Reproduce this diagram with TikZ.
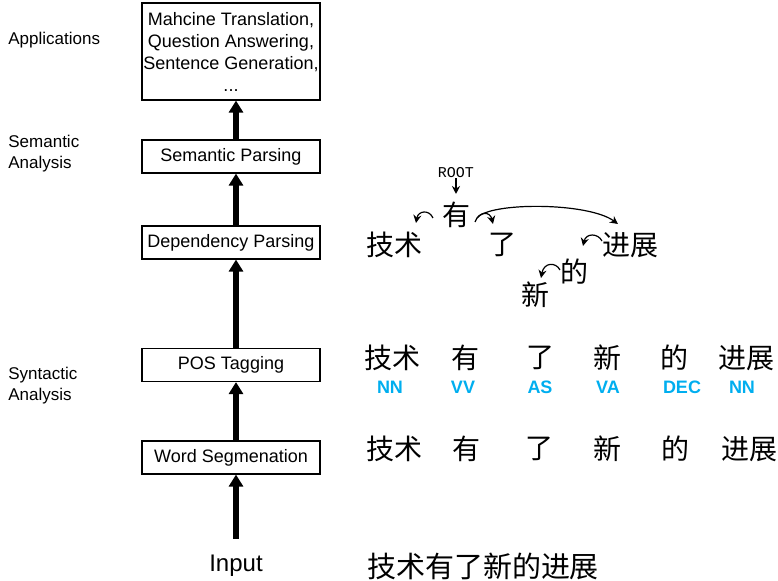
\documentclass[tikz,border=0pt]{standalone}
\usepackage{fontspec}
\setmainfont{Liberation Sans}
\newfontfamily\cjk{Noto Sans CJK SC}
\newfontfamily\courier{Liberation Mono}
\usetikzlibrary{arrows.meta,calc}
\definecolor{tagblue}{RGB}{0,174,239}

\begin{document}
\begin{tikzpicture}[x=0.5pt,y=-0.5pt,
  stage/.style={draw,line width=0.6pt,minimum width=89pt,minimum height=16.5pt,inner sep=0pt,font=\fontsize{9}{11}\selectfont},
  level/.style={anchor=west,align=left,inner sep=0pt,font=\fontsize{8.5}{10.5}\selectfont},
  flow/.style={line width=3pt,-{Triangle[width=7pt,length=6pt]}},
  word/.style={inner sep=0pt,font=\fontsize{14}{14}\cjk},
  tag/.style={inner sep=0pt,text=tagblue,font=\fontsize{9}{9}\selectfont\bfseries},
  dep/.style={line width=0.6pt,-{Stealth[width=4pt,length=4pt]}}]
\useasboundingbox (0,0) rectangle (778,581);

% pipeline
\node[stage,align=center,minimum height=48.5pt] (app) at (231,51.5) {Mahcine Translation,\\ Question Answering,\\Sentence Generation,\\...};
\node[stage] (sem) at (231,156.5) {Semantic Parsing};
\node[stage] (dpar) at (231,242.5) {Dependency Parsing};
\node[stage] (pos) at (231,365) {POS Tagging};
\node[stage] (seg) at (231,457.5) {Word Segmenation};
\node[inner sep=0pt,inner ysep=8pt,font=\fontsize{12}{12}\selectfont] (input) at (236,566) {Input};

\draw[flow] ([xshift=2.5pt]sem.north) -- ([xshift=2.5pt]app.south);
\draw[flow] ([xshift=2.5pt]dpar.north) -- ([xshift=2.5pt]sem.south);
\draw[flow] ([xshift=2.5pt]pos.north) -- ([xshift=2.5pt]dpar.south);
\draw[flow] ([xshift=2.5pt]seg.north) -- ([xshift=2.5pt]pos.south);
\draw[flow] (input.north) -- ([xshift=2.5pt]seg.south);

% levels
\node[level] (lapp) at (8,40) {Applications};
\node[level] (lsem) at (8,153.5) {Semantic\\Analysis};
\node[level] (lsyn) at (8,386) {Syntactic\\Analysis};

% sentence
\node[word,font=\fontsize{14.5}{14.5}\cjk] (sent) at (483,566) {技术有了新的进展};

% segmentation
\node[word] (s1) at (394,449) {技术};
\node[word] (s2) at (466,449) {有};
\node[word] (s3) at (539,449) {了};
\node[word] (s4) at (607,449) {新};
\node[word] (s5) at (675,449) {的};
\node[word] (s6) at (749,449) {进展};

% tagging
\node[word] (p1) at (392,358) {技术};
\node[word] (p2) at (465,358) {有};
\node[word] (p3) at (540,358) {了};
\node[word] (p4) at (607,358) {新};
\node[word] (p5) at (674,358) {的};
\node[word] (p6) at (746,358) {进展};
\node[tag] (t1) at (390,387) {NN};
\node[tag] (t2) at (463,387) {VV};
\node[tag] (t3) at (540,387) {AS};
\node[tag] (t4) at (608,387) {VA};
\node[tag] (t5) at (682,387) {DEC};
\node[tag] (t6) at (742,387) {NN};

% dependency tree
\node[inner sep=0pt,font=\fontsize{7.5}{7.5}\courier] (root) at (456,173) {ROOT};
\node[word] (dHas) at (456,215) {有};
\node[word] (dTech) at (394,245) {技术};
\node[word] (dLe) at (502,245) {了};
\node[word] (dProg) at (630,245) {进展};
\node[word] (dOf) at (574,272) {的};
\node[word] (dNew) at (535,295) {新};

\draw[dep] (root.south) -- ($(dHas)+(0,-21)$);
\draw[dep] ($(dHas)+(-23,3)$) .. controls +(-4,-9) and +(2,-12) .. ($(dTech)+(22,-22)$);
\draw[dep] ($(dHas)+(19,7)$) .. controls +(4,-11) and +(-3,-13) .. ($(dLe)+(-9,-21)$);
\draw[dep] ($(dHas)+(21,3)$) .. controls +(12,-16) and +(-30,-22) .. ($(dProg)+(-12,-21)$);
\draw[dep] ($(dProg)+(-28,-4)$) .. controls +(-4,-8) and +(3,-13) .. ($(dOf)+(9,-26)$);
\draw[dep] ($(dOf)+(-14,-2)$) .. controls +(-4,-8) and +(3,-16) .. ($(dNew)+(6,-17)$);
\end{tikzpicture}
\end{document}
